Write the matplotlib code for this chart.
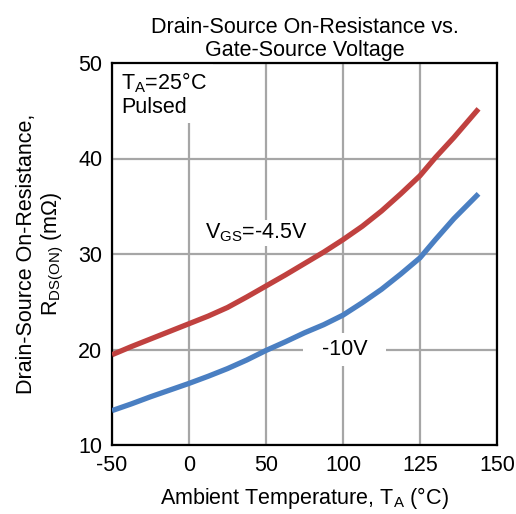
import numpy as np
import matplotlib
matplotlib.use("Agg")
import matplotlib.pyplot as plt

plt.rcParams['font.family'] = ['Liberation Sans', 'DejaVu Sans']
plt.rcParams['mathtext.fontset'] = 'custom'
plt.rcParams['mathtext.rm'] = 'Liberation Sans'

# Data
tick_temps = [-50, 0, 50, 100, 125, 150]
tick_labels = ['-50', '0', '50', '100', '125', '150']
temps = [-50, -37.5, -25, -12.5, 0, 12.5, 25, 37.5, 50, 62.5, 75, 87.5,
         100, 106.25, 112.5, 118.75, 125, 130, 136, 144]
r_vgs45 = [19.45, 20.3, 21.1, 21.9, 22.7, 23.5, 24.4, 25.5, 26.65, 27.8, 29.0, 30.2,
           31.5, 32.9, 34.5, 36.3, 38.2, 40.1, 42.2, 45.2]
r_vgs10 = [13.6, 14.3, 15.05, 15.75, 16.45, 17.2, 18.0, 18.9, 19.9, 20.8, 21.75, 22.6,
           23.6, 24.9, 26.3, 27.9, 29.6, 31.5, 33.7, 36.3]

pos = np.arange(len(tick_temps), dtype=float)

def fwd(t):
    return np.interp(t, tick_temps, pos)

def inv(p):
    return np.interp(p, pos, tick_temps)

fig = plt.figure(figsize=(5.16, 5.14), dpi=100)
ax = fig.add_axes([112/516, 1-445/514, (497-112)/516, (445-63)/514])
ax.set_xscale('function', functions=(fwd, inv))
ax.set_xlim(-50, 150)
ax.set_ylim(10, 50)

ax.plot(temps, r_vgs45, color='#c0413f', lw=3.8, solid_capstyle='butt', solid_joinstyle='round', zorder=3)
ax.plot(temps, r_vgs10, color='#4a7fc2', lw=3.8, solid_capstyle='butt', solid_joinstyle='round', zorder=3)

ax.set_xticks(tick_temps)
ax.set_xticklabels(tick_labels)
ax.set_yticks([10, 20, 30, 40, 50])
ax.tick_params(length=0, labelsize=15.5, pad=7)
ax.grid(True, color='#a6a6a6', lw=1.6)
ax.set_axisbelow(True)
for s in ax.spines.values():
    s.set_linewidth(1.6)
    s.set_color('black')

ax.set_title('Drain-Source On-Resistance vs.\nGate-Source Voltage', fontsize=15.5, pad=5, linespacing=1.15)
ax.set_xlabel(r'Ambient Temperature, T$_\mathregular{A}$ (°C)', fontsize=15.5, labelpad=7)
ax.set_ylabel('Drain-Source On-Resistance,\n' + r'R$_\mathregular{DS(ON)}$ (mΩ)', fontsize=15.5, labelpad=9, linespacing=1.15)

ax.text(-44, 49.2, 'T$_\\mathregular{A}$=25°C\nPulsed', fontsize=15.5, va='top', ha='left',
        bbox=dict(facecolor='white', edgecolor='none', pad=4), linespacing=1.1, zorder=2.5)
ax.text(43.5, 32.2, 'V$_\\mathregular{GS}$=-4.5V', fontsize=15.5, va='center', ha='center',
        bbox=dict(facecolor='white', edgecolor='none', pad=1), zorder=2.5)
ax.text(100.5, 20.0, '  -10V  ', fontsize=15.5, va='center', ha='center',
        bbox=dict(facecolor='white', edgecolor='none', boxstyle='square,pad=0.3'), zorder=2.5)

fig.savefig('out.png', dpi=100)
